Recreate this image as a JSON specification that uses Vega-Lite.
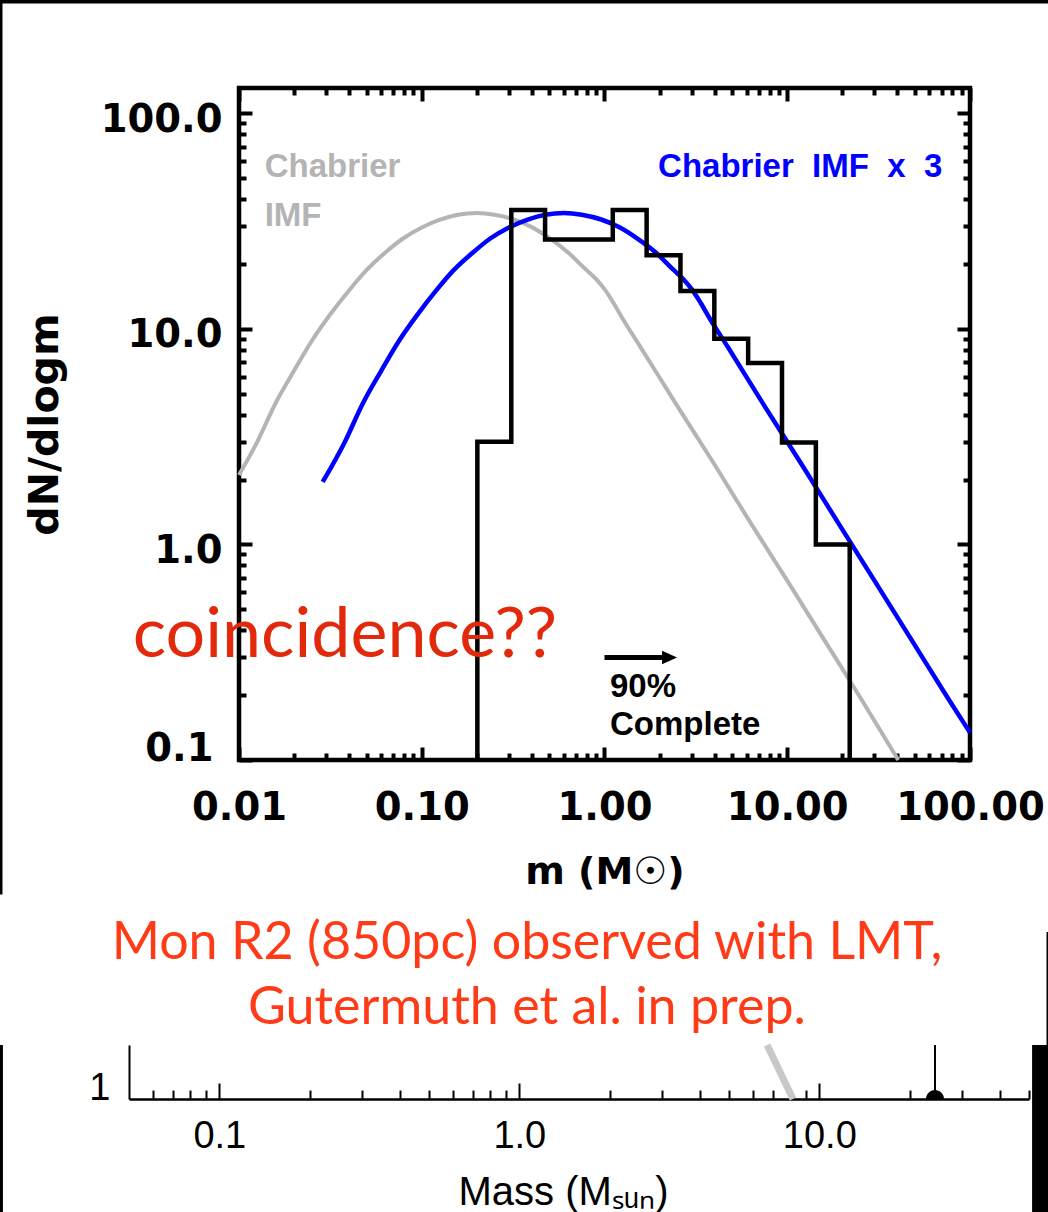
{
  "$schema": "https://vega.github.io/schema/vega-lite/v6.json",
  "autosize": "none",
  "width": 731,
  "height": 672,
  "padding": {"left": 239, "top": 88, "right": 78, "bottom": 452},
  "background": "white",
  "config": {
    "view": {"stroke": "black", "strokeWidth": 4.5},
    "axis": {"grid": false}
  },
  "resolve": {
    "scale": {"x": "independent", "y": "independent"},
    "axis": {"x": "independent", "y": "independent"}
  },
  "layer": [
    {
      "resolve": {"axis": {"x": "independent", "y": "independent"}},
      "layer": [
        {
          "data": {"values": [
            {"m": 0.01, "n": 2.1}, {"m": 0.0126, "n": 3.0}, {"m": 0.0158, "n": 4.5}, {"m": 0.02, "n": 6.4},
            {"m": 0.025, "n": 8.8}, {"m": 0.0316, "n": 11.7}, {"m": 0.04, "n": 15.1}, {"m": 0.05, "n": 18.8},
            {"m": 0.063, "n": 22.6}, {"m": 0.079, "n": 26.3}, {"m": 0.1, "n": 29.6}, {"m": 0.126, "n": 32.2},
            {"m": 0.158, "n": 33.9}, {"m": 0.2, "n": 34.5}, {"m": 0.25, "n": 33.9}, {"m": 0.316, "n": 32.3},
            {"m": 0.4, "n": 29.7}, {"m": 0.5, "n": 26.4}, {"m": 0.63, "n": 22.7}, {"m": 0.79, "n": 18.9},
            {"m": 0.89, "n": 17.2}, {"m": 1, "n": 15.3}, {"m": 1.12, "n": 13.2}, {"m": 1.26, "n": 11.13},
            {"m": 1.58, "n": 8.2}, {"m": 2.5, "n": 4.4}, {"m": 4, "n": 2.35},
            {"m": 6.3, "n": 1.26}, {"m": 10, "n": 0.68}, {"m": 15.8, "n": 0.365}, {"m": 25, "n": 0.196},
            {"m": 40.5, "n": 0.1}
          ]},
          "mark": {"type": "line", "color": "#b4b4b4", "strokeWidth": 4, "interpolate": "monotone"},
          "encoding": {
            "x": {"field": "m", "type": "quantitative", "sort": null,
              "scale": {"type": "log", "domain": [0.01, 100], "nice": false},
              "axis": {
                "orient": "bottom",
                "values": [0.01,0.02,0.03,0.04,0.05,0.06,0.07,0.08,0.09,0.1,0.2,0.3,0.4,0.5,0.6,0.7,0.8,0.9,1,2,3,4,5,6,7,8,9,10,20,30,40,50,60,70,80,90,100],
                "labelExpr": "indexof([0.01,0.1,1,10,100], datum.value) >= 0 ? format(datum.value, '.2f') : ''",
                "tickSize": {"condition": {"test": "indexof([0.01,0.1,1,10,100], datum.value) >= 0", "value": -13}, "value": -7},
                "tickWidth": 4, "tickColor": "black", "domain": false,
                "labelPadding": 42.5, "labelFont": "DejaVu Sans", "labelFontWeight": "bold", "labelFontSize": 38.5,
                "labelColor": "black", "labelFlush": false, "labelOverlap": false, "labelBaseline": "top", "labelAngle": 0,
                "title": "m (M☉)", "titleFont": "DejaVu Sans", "titleFontWeight": "bold", "titleFontSize": 38,
                "titleColor": "black", "titleBaseline": "alphabetic", "titleAlign": "center", "titleX": 365.5, "titleY": 123
              }
            },
            "y": {"field": "n", "type": "quantitative",
              "scale": {"type": "log", "domain": [0.1, 131.3], "nice": false},
              "axis": {
                "orient": "left",
                "values": [0.1,0.2,0.3,0.4,0.5,0.6,0.7,0.8,0.9,1,2,3,4,5,6,7,8,9,10,20,30,40,50,60,70,80,90,100],
                "labelExpr": "indexof([0.1,1,10,100], datum.value) >= 0 ? format(datum.value, '.1f') : ''",
                "tickSize": {"condition": {"test": "indexof([0.1,1,10,100], datum.value) >= 0", "value": -13}, "value": -7},
                "tickWidth": 4, "tickColor": "black", "domain": false,
                "labelPadding": {"condition": {"test": "datum.value == 0.1", "value": 39}, "value": 30},
                "labelOffset": {"condition": {"test": "datum.value == 0.1", "value": -12}, "value": 6},
                "labelFont": "DejaVu Sans", "labelFontWeight": "bold", "labelFontSize": 38.5, "labelColor": "black",
                "labelFlush": false, "labelOverlap": false, "labelBaseline": "middle", "labelAlign": "right",
                "title": "dN/dlogm", "titleFont": "DejaVu Sans", "titleFontWeight": "bold", "titleFontSize": 41,
                "titleColor": "black", "titleAngle": 270, "titleBaseline": "alphabetic", "titleAlign": "center",
                "titleX": -182, "titleY": 336
              }
            }
          }
        },
        {
          "data": {"values": [
            {"m": 0.0287, "n": 1.95}, {"m": 0.038, "n": 3.0}, {"m": 0.0475, "n": 4.5}, {"m": 0.06, "n": 6.4},
            {"m": 0.075, "n": 8.8}, {"m": 0.095, "n": 11.7}, {"m": 0.12, "n": 15.1}, {"m": 0.15, "n": 18.8},
            {"m": 0.19, "n": 22.6}, {"m": 0.237, "n": 26.3}, {"m": 0.3, "n": 29.6}, {"m": 0.38, "n": 32.2},
            {"m": 0.475, "n": 33.9}, {"m": 0.6, "n": 34.5}, {"m": 0.75, "n": 33.9}, {"m": 0.95, "n": 32.3},
            {"m": 1.2, "n": 29.7}, {"m": 1.5, "n": 26.4}, {"m": 1.9, "n": 22.7}, {"m": 2.37, "n": 18.9},
            {"m": 2.67, "n": 17.2}, {"m": 3, "n": 15.3}, {"m": 3.36, "n": 13.2}, {"m": 3.78, "n": 11.13},
            {"m": 4.75, "n": 8.2}, {"m": 7.5, "n": 4.4}, {"m": 12, "n": 2.35},
            {"m": 19, "n": 1.26}, {"m": 30, "n": 0.68}, {"m": 47.5, "n": 0.365}, {"m": 75, "n": 0.196},
            {"m": 100, "n": 0.134}
          ]},
          "mark": {"type": "line", "color": "#0000ff", "strokeWidth": 4.5, "interpolate": "monotone"},
          "encoding": {
            "x": {"field": "m", "type": "quantitative", "sort": null,
              "scale": {"type": "log", "domain": [0.01, 100], "nice": false},
              "axis": {
                "orient": "top",
                "values": [0.01,0.02,0.03,0.04,0.05,0.06,0.07,0.08,0.09,0.1,0.2,0.3,0.4,0.5,0.6,0.7,0.8,0.9,1,2,3,4,5,6,7,8,9,10,20,30,40,50,60,70,80,90,100],
                "labels": false, "domain": false, "title": null,
                "tickSize": {"condition": {"test": "indexof([0.01,0.1,1,10,100], datum.value) >= 0", "value": -13}, "value": -7},
                "tickWidth": 4, "tickColor": "black"
              }
            },
            "y": {"field": "n", "type": "quantitative",
              "scale": {"type": "log", "domain": [0.1, 131.3], "nice": false},
              "axis": {
                "orient": "right",
                "values": [0.1,0.2,0.3,0.4,0.5,0.6,0.7,0.8,0.9,1,2,3,4,5,6,7,8,9,10,20,30,40,50,60,70,80,90,100],
                "labels": false, "domain": false, "title": null,
                "tickSize": {"condition": {"test": "indexof([0.1,1,10,100], datum.value) >= 0", "value": -13}, "value": -7},
                "tickWidth": 4, "tickColor": "black"
              }
            }
          }
        },
        {
          "data": {"values": [
            {"i": 0, "m": 0.2015, "n": 0.1}, {"i": 1, "m": 0.2015, "n": 3}, {"i": 2, "m": 0.309, "n": 35.7},
            {"i": 3, "m": 0.473, "n": 26}, {"i": 4, "m": 1.11, "n": 35.7}, {"i": 5, "m": 1.7, "n": 22},
            {"i": 6, "m": 2.604, "n": 15}, {"i": 7, "m": 3.99, "n": 9}, {"i": 8, "m": 6.11, "n": 6.95},
            {"i": 9, "m": 9.36, "n": 2.97}, {"i": 10, "m": 14.34, "n": 1}, {"i": 11, "m": 21.97, "n": 1},
            {"i": 12, "m": 21.97, "n": 0.1}
          ]},
          "mark": {"type": "line", "interpolate": "step-after", "color": "black", "strokeWidth": 4.5, "strokeJoin": "miter"},
          "encoding": {
            "x": {"field": "m", "type": "quantitative", "scale": {"type": "log", "domain": [0.01, 100], "nice": false}, "axis": null},
            "y": {"field": "n", "type": "quantitative", "scale": {"type": "log", "domain": [0.1, 131.3], "nice": false}, "axis": null},
            "order": {"field": "i"}
          }
        },
        {
          "mark": {"type": "rule", "color": "black", "strokeWidth": 4, "strokeDash": [10, 7]},
          "encoding": {
            "x": {"datum": 1, "type": "quantitative", "scale": {"type": "log", "domain": [0.01, 100], "nice": false}, "axis": null}
          }
        },
        {
          "data": {"values": [{"m": 1, "n": 0.299}, {"m": 2.27, "n": 0.299}]},
          "mark": {"type": "line", "color": "black", "strokeWidth": 5},
          "encoding": {
            "x": {"field": "m", "type": "quantitative", "scale": {"type": "log", "domain": [0.01, 100], "nice": false}, "axis": null},
            "y": {"field": "n", "type": "quantitative", "scale": {"type": "log", "domain": [0.1, 131.3], "nice": false}, "axis": null}
          }
        },
        {
          "data": {"values": [{"m": 2.27, "n": 0.299}]},
          "mark": {"type": "point", "shape": "M-1,-0.9L1,0L-1,0.9Z", "size": 225, "filled": true, "color": "black", "opacity": 1, "strokeWidth": 0},
          "encoding": {
            "x": {"field": "m", "type": "quantitative", "scale": {"type": "log", "domain": [0.01, 100], "nice": false}, "axis": null},
            "y": {"field": "n", "type": "quantitative", "scale": {"type": "log", "domain": [0.1, 131.3], "nice": false}, "axis": null}
          }
        },
        {
          "data": {"values": [
            {"m": 0.01382, "n": 51.0, "label": "Chabrier"},
            {"m": 0.01382, "n": 29.9, "label": "IMF"}
          ]},
          "mark": {"type": "text", "align": "left", "baseline": "alphabetic", "font": "Liberation Sans", "fontWeight": "bold", "fontSize": 33, "color": "#b4b4b4"},
          "encoding": {
            "x": {"field": "m", "type": "quantitative", "scale": {"type": "log", "domain": [0.01, 100], "nice": false}, "axis": null},
            "y": {"field": "n", "type": "quantitative", "scale": {"type": "log", "domain": [0.1, 131.3], "nice": false}, "axis": null},
            "text": {"field": "label"}
          }
        },
        {
          "data": {"values": [{"m": 11.77, "n": 51.0, "label": "Chabrier\u00a0\u00a0IMF\u00a0\u00a0x\u00a0\u00a03"}]},
          "mark": {"type": "text", "align": "center", "baseline": "alphabetic", "font": "Liberation Sans", "fontWeight": "bold", "fontSize": 33, "color": "#0000ff"},
          "encoding": {
            "x": {"field": "m", "type": "quantitative", "scale": {"type": "log", "domain": [0.01, 100], "nice": false}, "axis": null},
            "y": {"field": "n", "type": "quantitative", "scale": {"type": "log", "domain": [0.1, 131.3], "nice": false}, "axis": null},
            "text": {"field": "label"}
          }
        },
        {
          "data": {"values": [
            {"m": 1.072, "n": 0.197, "label": "90%"},
            {"m": 1.072, "n": 0.130, "label": "Complete"}
          ]},
          "mark": {"type": "text", "align": "left", "baseline": "alphabetic", "font": "Liberation Sans", "fontWeight": "bold", "fontSize": 33, "color": "black"},
          "encoding": {
            "x": {"field": "m", "type": "quantitative", "scale": {"type": "log", "domain": [0.01, 100], "nice": false}, "axis": null},
            "y": {"field": "n", "type": "quantitative", "scale": {"type": "log", "domain": [0.1, 131.3], "nice": false}, "axis": null},
            "text": {"field": "label"}
          }
        },
        {
          "data": {"values": [{"m": 0.00262, "n": 0.302, "label": "coincidence??"}]},
          "mark": {"type": "text", "align": "left", "baseline": "alphabetic", "font": "Lato", "fontSize": 70, "color": "#e3290b"},
          "encoding": {
            "x": {"field": "m", "type": "quantitative", "scale": {"type": "log", "domain": [0.01, 100], "nice": false}, "axis": null},
            "y": {"field": "n", "type": "quantitative", "scale": {"type": "log", "domain": [0.1, 131.3], "nice": false}, "axis": null},
            "text": {"field": "label"}
          }
        },
        {
          "data": {"values": [
            {"m": 0.3763, "n": 0.01187, "label": "Mon R2 (850pc) observed with LMT,"},
            {"m": 0.3763, "n": 0.005988, "label": "Gutermuth et al. in prep."}
          ]},
          "mark": {"type": "text", "align": "center", "baseline": "alphabetic", "font": "Lato", "fontSize": 52, "color": "#ff3b17"},
          "encoding": {
            "x": {"field": "m", "type": "quantitative", "scale": {"type": "log", "domain": [0.01, 100], "nice": false}, "axis": null},
            "y": {"field": "n", "type": "quantitative", "scale": {"type": "log", "domain": [0.1, 131.3], "nice": false}, "axis": null},
            "text": {"field": "label"}
          }
        },
        {
          "data": {"values": [
            {"m1": 0.0004, "m2": 300, "n1": 324, "n2": 400},
            {"m1": 0.0004, "m2": 0.000508, "n1": 0.02377, "n2": 400}
          ]},
          "mark": {"type": "rect", "color": "black"},
          "encoding": {
            "x": {"field": "m1", "type": "quantitative", "scale": {"type": "log", "domain": [0.01, 100], "nice": false}, "axis": null},
            "x2": {"field": "m2"},
            "y": {"field": "n1", "type": "quantitative", "scale": {"type": "log", "domain": [0.1, 131.3], "nice": false}, "axis": null},
            "y2": {"field": "n2"}
          }
        }
      ]
    },
    {
      "data": {"values": [{"m": 6.7, "n": 3}, {"m": 8.17, "n": 1}]},
      "mark": {"type": "line", "color": "#c8c8c8", "strokeWidth": 7},
      "encoding": {
        "x": {"field": "m", "type": "quantitative",
          "scale": {"type": "log", "domain": [0.05, 50], "range": [-110, 790], "nice": false},
          "axis": {
            "orient": "bottom", "offset": 339,
            "values": [0.06,0.07,0.08,0.09,0.1,0.2,0.3,0.4,0.5,0.6,0.7,0.8,0.9,1,2,3,4,5,6,7,8,9,10,20,30,40,50],
            "labelExpr": "indexof([0.1,1,10], datum.value) >= 0 ? format(datum.value, '.1f') : ''",
            "tickSize": {"condition": {"test": "indexof([0.1,1,10], datum.value) >= 0", "value": -16}, "value": -9},
            "tickWidth": 2, "tickColor": "black",
            "domain": true, "domainWidth": 2.5, "domainColor": "black",
            "labelPadding": 34, "labelFont": "Liberation Sans", "labelFontSize": 38, "labelColor": "black",
            "labelFlush": false, "labelOverlap": false, "labelBaseline": "top", "labelAngle": 0,
            "title": "Mass (Mₛᵤₙ)", "titleFont": "Liberation Sans", "titleFontWeight": "normal", "titleFontSize": 40,
            "titleColor": "black", "titleBaseline": "alphabetic", "titleAlign": "center", "titleX": 324, "titleY": 105
          }
        },
        "y": {"field": "n", "type": "quantitative",
          "scale": {"type": "log", "domain": [1, 3], "range": [1011, 957], "nice": false},
          "axis": {
            "orient": "left", "offset": 110, "values": [1], "labelExpr": "'1'",
            "ticks": false, "domain": true, "domainWidth": 2, "domainColor": "black",
            "labelPadding": 19, "labelBaseline": "alphabetic", "labelAlign": "right",
            "labelFont": "Liberation Sans", "labelFontSize": 38, "labelColor": "black", "labelFlush": false,
            "title": null
          }
        }
      }
    },
    {
      "data": {"values": [{"m": 24.3, "n1": 1, "n2": 3}]},
      "mark": {"type": "rule", "color": "black", "strokeWidth": 2},
      "encoding": {
        "x": {"field": "m", "type": "quantitative", "scale": {"type": "log", "domain": [0.05, 50], "range": [-110, 790], "nice": false}, "axis": null},
        "y": {"field": "n1", "type": "quantitative", "scale": {"type": "log", "domain": [1, 3], "range": [1011, 957], "nice": false}, "axis": null},
        "y2": {"field": "n2"}
      }
    },
    {
      "data": {"values": [{"m": 24.3, "n": 1}]},
      "mark": {"type": "point", "shape": "M-1,0A1,1,0,0,1,1,0Z", "size": 324, "filled": true, "color": "black", "opacity": 1, "strokeWidth": 0},
      "encoding": {
        "x": {"field": "m", "type": "quantitative", "scale": {"type": "log", "domain": [0.05, 50], "range": [-110, 790], "nice": false}, "axis": null},
        "y": {"field": "n", "type": "quantitative", "scale": {"type": "log", "domain": [1, 3], "range": [1011, 957], "nice": false}, "axis": null}
      }
    },
    {
      "data": {"values": [
        {"m1": 51.2, "m2": 70, "n1": 0.05, "n2": 3},
        {"m1": 57.2, "m2": 70, "n1": 3, "n2": 29.9},
        {"m1": 0.015, "m2": 0.019, "n1": 0.05, "n2": 3}
      ]},
      "mark": {"type": "rect", "color": "black"},
      "encoding": {
        "x": {"field": "m1", "type": "quantitative", "scale": {"type": "log", "domain": [0.05, 50], "range": [-110, 790], "nice": false}, "axis": null},
        "x2": {"field": "m2"},
        "y": {"field": "n1", "type": "quantitative", "scale": {"type": "log", "domain": [1, 3], "range": [1011, 957], "nice": false}, "axis": null},
        "y2": {"field": "n2"}
      }
    }
  ]
}
